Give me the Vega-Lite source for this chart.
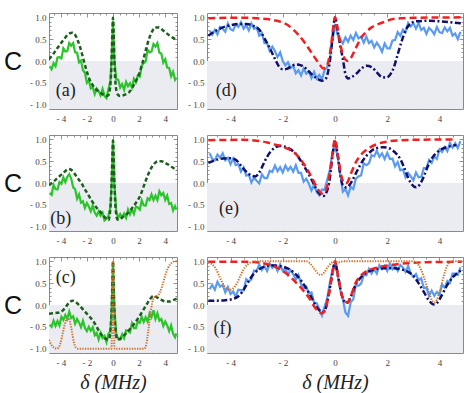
{
"$schema":"https://vega.github.io/schema/vega-lite/v6.json",
"padding":{"left":2,"top":12,"right":2,"bottom":2},
"background":"white",
"config":{"view":{"stroke":"#8a8a8a","strokeWidth":1},"axis":{"domain":false,"grid":false,"tickColor":"#777","tickWidth":0.8,"labelFont":"Liberation Serif","labelFontSize":9,"labelColor":"#444","titleFontWeight":"normal"}},
"data":{"name":"d"},
"datasets":{"d":[
{"p":"a","s":"e","x":-4.85,"y":-0.12},{"p":"a","s":"e","x":-4.7,"y":-0.19},{"p":"a","s":"e","x":-4.55,"y":-0.05},{"p":"a","s":"e","x":-4.4,"y":-0.12},{"p":"a","s":"e","x":-4.25,"y":0.08},{"p":"a","s":"e","x":-4.1,"y":0.09},{"p":"a","s":"e","x":-3.95,"y":0.06},{"p":"a","s":"e","x":-3.8,"y":0.29},{"p":"a","s":"e","x":-3.65,"y":0.22},{"p":"a","s":"e","x":-3.5,"y":0.23},{"p":"a","s":"e","x":-3.35,"y":0.41},{"p":"a","s":"e","x":-3.2,"y":0.35},{"p":"a","s":"e","x":-3.05,"y":0.41},{"p":"a","s":"e","x":-2.9,"y":0.2},{"p":"a","s":"e","x":-2.75,"y":0.19},{"p":"a","s":"e","x":-2.6,"y":-0.03},{"p":"a","s":"e","x":-2.45,"y":0.01},{"p":"a","s":"e","x":-2.3,"y":-0.21},{"p":"a","s":"e","x":-2.15,"y":-0.27},{"p":"a","s":"e","x":-2.0,"y":-0.5},{"p":"a","s":"e","x":-1.85,"y":-0.44},{"p":"a","s":"e","x":-1.7,"y":-0.63},{"p":"a","s":"e","x":-1.55,"y":-0.6},{"p":"a","s":"e","x":-1.4,"y":-0.76},{"p":"a","s":"e","x":-1.25,"y":-0.63},{"p":"a","s":"e","x":-1.1,"y":-0.69},{"p":"a","s":"e","x":-0.95,"y":-0.79},{"p":"a","s":"e","x":-0.8,"y":-0.64},{"p":"a","s":"e","x":-0.65,"y":-0.8},{"p":"a","s":"e","x":-0.5,"y":-0.85},{"p":"a","s":"e","x":-0.35,"y":-0.65},{"p":"a","s":"e","x":-0.2,"y":-0.46},{"p":"a","s":"e","x":-0.1,"y":0.1},{"p":"a","s":"e","x":0,"y":0.93},{"p":"a","s":"e","x":0.1,"y":0.05},{"p":"a","s":"e","x":0.25,"y":-0.42},{"p":"a","s":"e","x":0.4,"y":-0.43},{"p":"a","s":"e","x":0.55,"y":-0.61},{"p":"a","s":"e","x":0.7,"y":-0.53},{"p":"a","s":"e","x":0.85,"y":-0.66},{"p":"a","s":"e","x":1.0,"y":-0.48},{"p":"a","s":"e","x":1.15,"y":-0.58},{"p":"a","s":"e","x":1.3,"y":-0.51},{"p":"a","s":"e","x":1.45,"y":-0.61},{"p":"a","s":"e","x":1.6,"y":-0.41},{"p":"a","s":"e","x":1.75,"y":-0.49},{"p":"a","s":"e","x":1.9,"y":-0.33},{"p":"a","s":"e","x":2.05,"y":-0.36},{"p":"a","s":"e","x":2.2,"y":-0.11},{"p":"a","s":"e","x":2.35,"y":-0.05},{"p":"a","s":"e","x":2.5,"y":-0.01},{"p":"a","s":"e","x":2.65,"y":0.26},{"p":"a","s":"e","x":2.8,"y":0.2},{"p":"a","s":"e","x":2.95,"y":0.22},{"p":"a","s":"e","x":3.1,"y":0.39},{"p":"a","s":"e","x":3.25,"y":0.33},{"p":"a","s":"e","x":3.4,"y":0.41},{"p":"a","s":"e","x":3.55,"y":0.19},{"p":"a","s":"e","x":3.7,"y":0.17},{"p":"a","s":"e","x":3.85,"y":-0.04},{"p":"a","s":"e","x":4.0,"y":0.04},{"p":"a","s":"e","x":4.15,"y":-0.15},{"p":"a","s":"e","x":4.3,"y":-0.16},{"p":"a","s":"e","x":4.45,"y":-0.35},{"p":"a","s":"e","x":4.6,"y":-0.25},{"p":"a","s":"e","x":4.75,"y":-0.43},{"p":"a","s":"e","x":4.85,"y":-0.38},
{"p":"a","s":"t","x":-4.9,"y":0.04},{"p":"a","s":"t","x":-4.6,"y":0.15},{"p":"a","s":"t","x":-4.3,"y":0.28},{"p":"a","s":"t","x":-4.0,"y":0.4},{"p":"a","s":"t","x":-3.7,"y":0.52},{"p":"a","s":"t","x":-3.4,"y":0.62},{"p":"a","s":"t","x":-3.1,"y":0.65},{"p":"a","s":"t","x":-2.9,"y":0.6},{"p":"a","s":"t","x":-2.7,"y":0.47},{"p":"a","s":"t","x":-2.5,"y":0.3},{"p":"a","s":"t","x":-2.3,"y":0.08},{"p":"a","s":"t","x":-2.1,"y":-0.14},{"p":"a","s":"t","x":-1.9,"y":-0.34},{"p":"a","s":"t","x":-1.7,"y":-0.48},{"p":"a","s":"t","x":-1.5,"y":-0.58},{"p":"a","s":"t","x":-1.3,"y":-0.65},{"p":"a","s":"t","x":-1.1,"y":-0.7},{"p":"a","s":"t","x":-0.9,"y":-0.74},{"p":"a","s":"t","x":-0.7,"y":-0.78},{"p":"a","s":"t","x":-0.5,"y":-0.8},{"p":"a","s":"t","x":-0.35,"y":-0.78},{"p":"a","s":"t","x":-0.22,"y":-0.6},{"p":"a","s":"t","x":-0.12,"y":-0.1},{"p":"a","s":"t","x":-0.05,"y":0.65},{"p":"a","s":"t","x":0,"y":0.99},{"p":"a","s":"t","x":0.05,"y":0.65},{"p":"a","s":"t","x":0.12,"y":-0.1},{"p":"a","s":"t","x":0.22,"y":-0.6},{"p":"a","s":"t","x":0.35,"y":-0.76},{"p":"a","s":"t","x":0.55,"y":-0.8},{"p":"a","s":"t","x":0.75,"y":-0.79},{"p":"a","s":"t","x":1.0,"y":-0.76},{"p":"a","s":"t","x":1.25,"y":-0.71},{"p":"a","s":"t","x":1.5,"y":-0.6},{"p":"a","s":"t","x":1.75,"y":-0.46},{"p":"a","s":"t","x":2.0,"y":-0.3},{"p":"a","s":"t","x":2.25,"y":-0.05},{"p":"a","s":"t","x":2.5,"y":0.24},{"p":"a","s":"t","x":2.75,"y":0.5},{"p":"a","s":"t","x":3.0,"y":0.68},{"p":"a","s":"t","x":3.25,"y":0.77},{"p":"a","s":"t","x":3.5,"y":0.77},{"p":"a","s":"t","x":3.75,"y":0.72},{"p":"a","s":"t","x":4.0,"y":0.66},{"p":"a","s":"t","x":4.3,"y":0.59},{"p":"a","s":"t","x":4.6,"y":0.53},{"p":"a","s":"t","x":4.9,"y":0.47},
{"p":"b","s":"e","x":-4.85,"y":-0.23},{"p":"b","s":"e","x":-4.7,"y":-0.27},{"p":"b","s":"e","x":-4.55,"y":-0.04},{"p":"b","s":"e","x":-4.4,"y":-0.14},{"p":"b","s":"e","x":-4.25,"y":-0.15},{"p":"b","s":"e","x":-4.1,"y":0.02},{"p":"b","s":"e","x":-3.95,"y":-0.02},{"p":"b","s":"e","x":-3.8,"y":0.13},{"p":"b","s":"e","x":-3.65,"y":0.02},{"p":"b","s":"e","x":-3.5,"y":0.14},{"p":"b","s":"e","x":-3.35,"y":0.2},{"p":"b","s":"e","x":-3.2,"y":0.1},{"p":"b","s":"e","x":-3.05,"y":-0.1},{"p":"b","s":"e","x":-2.9,"y":-0.14},{"p":"b","s":"e","x":-2.75,"y":-0.36},{"p":"b","s":"e","x":-2.6,"y":-0.26},{"p":"b","s":"e","x":-2.45,"y":-0.45},{"p":"b","s":"e","x":-2.3,"y":-0.42},{"p":"b","s":"e","x":-2.15,"y":-0.57},{"p":"b","s":"e","x":-2.0,"y":-0.46},{"p":"b","s":"e","x":-1.85,"y":-0.54},{"p":"b","s":"e","x":-1.7,"y":-0.65},{"p":"b","s":"e","x":-1.55,"y":-0.51},{"p":"b","s":"e","x":-1.4,"y":-0.68},{"p":"b","s":"e","x":-1.25,"y":-0.75},{"p":"b","s":"e","x":-1.1,"y":-0.65},{"p":"b","s":"e","x":-0.95,"y":-0.75},{"p":"b","s":"e","x":-0.8,"y":-0.68},{"p":"b","s":"e","x":-0.65,"y":-0.86},{"p":"b","s":"e","x":-0.5,"y":-0.82},{"p":"b","s":"e","x":-0.35,"y":-0.75},{"p":"b","s":"e","x":-0.2,"y":-0.55},{"p":"b","s":"e","x":-0.1,"y":0.0},{"p":"b","s":"e","x":0,"y":1.0},{"p":"b","s":"e","x":0.1,"y":0.0},{"p":"b","s":"e","x":0.25,"y":-0.65},{"p":"b","s":"e","x":0.4,"y":-0.8},{"p":"b","s":"e","x":0.55,"y":-0.71},{"p":"b","s":"e","x":0.7,"y":-0.79},{"p":"b","s":"e","x":0.85,"y":-0.7},{"p":"b","s":"e","x":1.0,"y":-0.8},{"p":"b","s":"e","x":1.15,"y":-0.61},{"p":"b","s":"e","x":1.3,"y":-0.72},{"p":"b","s":"e","x":1.45,"y":-0.61},{"p":"b","s":"e","x":1.6,"y":-0.71},{"p":"b","s":"e","x":1.75,"y":-0.54},{"p":"b","s":"e","x":1.9,"y":-0.56},{"p":"b","s":"e","x":2.05,"y":-0.61},{"p":"b","s":"e","x":2.2,"y":-0.4},{"p":"b","s":"e","x":2.35,"y":-0.51},{"p":"b","s":"e","x":2.5,"y":-0.52},{"p":"b","s":"e","x":2.65,"y":-0.35},{"p":"b","s":"e","x":2.8,"y":-0.39},{"p":"b","s":"e","x":2.95,"y":-0.26},{"p":"b","s":"e","x":3.1,"y":-0.39},{"p":"b","s":"e","x":3.25,"y":-0.29},{"p":"b","s":"e","x":3.4,"y":-0.39},{"p":"b","s":"e","x":3.55,"y":-0.19},{"p":"b","s":"e","x":3.7,"y":-0.28},{"p":"b","s":"e","x":3.85,"y":-0.23},{"p":"b","s":"e","x":4.0,"y":-0.39},{"p":"b","s":"e","x":4.15,"y":-0.29},{"p":"b","s":"e","x":4.3,"y":-0.48},{"p":"b","s":"e","x":4.45,"y":-0.46},{"p":"b","s":"e","x":4.6,"y":-0.63},{"p":"b","s":"e","x":4.75,"y":-0.53},{"p":"b","s":"e","x":4.85,"y":-0.61},
{"p":"b","s":"t","x":-4.9,"y":-0.05},{"p":"b","s":"t","x":-4.6,"y":0.02},{"p":"b","s":"t","x":-4.3,"y":0.1},{"p":"b","s":"t","x":-4.0,"y":0.18},{"p":"b","s":"t","x":-3.7,"y":0.26},{"p":"b","s":"t","x":-3.4,"y":0.32},{"p":"b","s":"t","x":-3.2,"y":0.3},{"p":"b","s":"t","x":-3.0,"y":0.24},{"p":"b","s":"t","x":-2.8,"y":0.15},{"p":"b","s":"t","x":-2.6,"y":0.07},{"p":"b","s":"t","x":-2.4,"y":-0.01},{"p":"b","s":"t","x":-2.2,"y":-0.12},{"p":"b","s":"t","x":-2.0,"y":-0.22},{"p":"b","s":"t","x":-1.8,"y":-0.32},{"p":"b","s":"t","x":-1.6,"y":-0.42},{"p":"b","s":"t","x":-1.3,"y":-0.55},{"p":"b","s":"t","x":-1.0,"y":-0.65},{"p":"b","s":"t","x":-0.7,"y":-0.76},{"p":"b","s":"t","x":-0.5,"y":-0.82},{"p":"b","s":"t","x":-0.35,"y":-0.85},{"p":"b","s":"t","x":-0.22,"y":-0.65},{"p":"b","s":"t","x":-0.12,"y":-0.1},{"p":"b","s":"t","x":-0.05,"y":0.6},{"p":"b","s":"t","x":0,"y":0.97},{"p":"b","s":"t","x":0.05,"y":0.6},{"p":"b","s":"t","x":0.12,"y":-0.1},{"p":"b","s":"t","x":0.22,"y":-0.65},{"p":"b","s":"t","x":0.35,"y":-0.84},{"p":"b","s":"t","x":0.5,"y":-0.83},{"p":"b","s":"t","x":0.8,"y":-0.77},{"p":"b","s":"t","x":1.1,"y":-0.7},{"p":"b","s":"t","x":1.4,"y":-0.6},{"p":"b","s":"t","x":1.7,"y":-0.48},{"p":"b","s":"t","x":1.9,"y":-0.39},{"p":"b","s":"t","x":2.1,"y":-0.28},{"p":"b","s":"t","x":2.3,"y":-0.12},{"p":"b","s":"t","x":2.5,"y":0.05},{"p":"b","s":"t","x":2.7,"y":0.2},{"p":"b","s":"t","x":2.9,"y":0.33},{"p":"b","s":"t","x":3.1,"y":0.42},{"p":"b","s":"t","x":3.3,"y":0.48},{"p":"b","s":"t","x":3.5,"y":0.5},{"p":"b","s":"t","x":3.7,"y":0.5},{"p":"b","s":"t","x":4.0,"y":0.46},{"p":"b","s":"t","x":4.3,"y":0.41},{"p":"b","s":"t","x":4.6,"y":0.35},{"p":"b","s":"t","x":4.9,"y":0.3},
{"p":"c","s":"e","x":-4.85,"y":-0.45},{"p":"c","s":"e","x":-4.7,"y":-0.5},{"p":"c","s":"e","x":-4.55,"y":-0.36},{"p":"c","s":"e","x":-4.4,"y":-0.48},{"p":"c","s":"e","x":-4.25,"y":-0.37},{"p":"c","s":"e","x":-4.1,"y":-0.47},{"p":"c","s":"e","x":-3.95,"y":-0.27},{"p":"c","s":"e","x":-3.8,"y":-0.34},{"p":"c","s":"e","x":-3.65,"y":-0.23},{"p":"c","s":"e","x":-3.5,"y":-0.32},{"p":"c","s":"e","x":-3.35,"y":-0.15},{"p":"c","s":"e","x":-3.2,"y":-0.3},{"p":"c","s":"e","x":-3.05,"y":-0.26},{"p":"c","s":"e","x":-2.9,"y":-0.43},{"p":"c","s":"e","x":-2.75,"y":-0.32},{"p":"c","s":"e","x":-2.6,"y":-0.4},{"p":"c","s":"e","x":-2.45,"y":-0.51},{"p":"c","s":"e","x":-2.3,"y":-0.36},{"p":"c","s":"e","x":-2.15,"y":-0.53},{"p":"c","s":"e","x":-2.0,"y":-0.6},{"p":"c","s":"e","x":-1.85,"y":-0.5},{"p":"c","s":"e","x":-1.7,"y":-0.59},{"p":"c","s":"e","x":-1.55,"y":-0.51},{"p":"c","s":"e","x":-1.4,"y":-0.69},{"p":"c","s":"e","x":-1.25,"y":-0.64},{"p":"c","s":"e","x":-1.1,"y":-0.79},{"p":"c","s":"e","x":-0.95,"y":-0.64},{"p":"c","s":"e","x":-0.8,"y":-0.76},{"p":"c","s":"e","x":-0.65,"y":-0.71},{"p":"c","s":"e","x":-0.5,"y":-0.85},{"p":"c","s":"e","x":-0.35,"y":-0.66},{"p":"c","s":"e","x":-0.2,"y":-0.6},{"p":"c","s":"e","x":-0.1,"y":-0.05},{"p":"c","s":"e","x":0,"y":1.0},{"p":"c","s":"e","x":0.1,"y":-0.05},{"p":"c","s":"e","x":0.25,"y":-0.65},{"p":"c","s":"e","x":0.4,"y":-0.78},{"p":"c","s":"e","x":0.55,"y":-0.79},{"p":"c","s":"e","x":0.7,"y":-0.67},{"p":"c","s":"e","x":0.85,"y":-0.76},{"p":"c","s":"e","x":1.0,"y":-0.58},{"p":"c","s":"e","x":1.15,"y":-0.59},{"p":"c","s":"e","x":1.3,"y":-0.63},{"p":"c","s":"e","x":1.45,"y":-0.42},{"p":"c","s":"e","x":1.6,"y":-0.53},{"p":"c","s":"e","x":1.75,"y":-0.53},{"p":"c","s":"e","x":1.9,"y":-0.37},{"p":"c","s":"e","x":2.05,"y":-0.41},{"p":"c","s":"e","x":2.2,"y":-0.27},{"p":"c","s":"e","x":2.35,"y":-0.39},{"p":"c","s":"e","x":2.5,"y":-0.28},{"p":"c","s":"e","x":2.65,"y":-0.38},{"p":"c","s":"e","x":2.8,"y":-0.19},{"p":"c","s":"e","x":2.95,"y":-0.28},{"p":"c","s":"e","x":3.1,"y":-0.12},{"p":"c","s":"e","x":3.25,"y":-0.32},{"p":"c","s":"e","x":3.4,"y":-0.19},{"p":"c","s":"e","x":3.55,"y":-0.36},{"p":"c","s":"e","x":3.7,"y":-0.32},{"p":"c","s":"e","x":3.85,"y":-0.48},{"p":"c","s":"e","x":4.0,"y":-0.38},{"p":"c","s":"e","x":4.15,"y":-0.47},{"p":"c","s":"e","x":4.3,"y":-0.6},{"p":"c","s":"e","x":4.45,"y":-0.47},{"p":"c","s":"e","x":4.6,"y":-0.66},{"p":"c","s":"e","x":4.75,"y":-0.74},{"p":"c","s":"e","x":4.85,"y":-0.65},
{"p":"c","s":"t","x":-4.9,"y":-0.2},{"p":"c","s":"t","x":-4.6,"y":-0.19},{"p":"c","s":"t","x":-4.3,"y":-0.18},{"p":"c","s":"t","x":-4.0,"y":-0.16},{"p":"c","s":"t","x":-3.7,"y":-0.08},{"p":"c","s":"t","x":-3.4,"y":0.04},{"p":"c","s":"t","x":-3.1,"y":0.1},{"p":"c","s":"t","x":-2.9,"y":0.08},{"p":"c","s":"t","x":-2.6,"y":0.0},{"p":"c","s":"t","x":-2.3,"y":-0.1},{"p":"c","s":"t","x":-2.0,"y":-0.2},{"p":"c","s":"t","x":-1.7,"y":-0.3},{"p":"c","s":"t","x":-1.4,"y":-0.42},{"p":"c","s":"t","x":-1.1,"y":-0.58},{"p":"c","s":"t","x":-0.8,"y":-0.71},{"p":"c","s":"t","x":-0.5,"y":-0.78},{"p":"c","s":"t","x":-0.33,"y":-0.79},{"p":"c","s":"t","x":-0.2,"y":-0.6},{"p":"c","s":"t","x":-0.1,"y":-0.1},{"p":"c","s":"t","x":-0.04,"y":0.6},{"p":"c","s":"t","x":0,"y":1.0},{"p":"c","s":"t","x":0.04,"y":0.6},{"p":"c","s":"t","x":0.1,"y":-0.1},{"p":"c","s":"t","x":0.2,"y":-0.6},{"p":"c","s":"t","x":0.33,"y":-0.79},{"p":"c","s":"t","x":0.5,"y":-0.78},{"p":"c","s":"t","x":0.9,"y":-0.68},{"p":"c","s":"t","x":1.3,"y":-0.55},{"p":"c","s":"t","x":1.7,"y":-0.4},{"p":"c","s":"t","x":2.1,"y":-0.22},{"p":"c","s":"t","x":2.45,"y":-0.05},{"p":"c","s":"t","x":2.8,"y":0.12},{"p":"c","s":"t","x":3.1,"y":0.21},{"p":"c","s":"t","x":3.4,"y":0.17},{"p":"c","s":"t","x":3.7,"y":0.12},{"p":"c","s":"t","x":4.0,"y":0.08},{"p":"c","s":"t","x":4.3,"y":0.08},{"p":"c","s":"t","x":4.6,"y":0.11},{"p":"c","s":"t","x":4.9,"y":0.15},
{"p":"c","s":"o","x":-4.9,"y":-0.8},{"p":"c","s":"o","x":-4.7,"y":-0.92},{"p":"c","s":"o","x":-4.5,"y":-0.98},{"p":"c","s":"o","x":-4.3,"y":-1.0},{"p":"c","s":"o","x":-4.15,"y":-0.97},{"p":"c","s":"o","x":-4.0,"y":-0.85},{"p":"c","s":"o","x":-3.85,"y":-0.65},{"p":"c","s":"o","x":-3.7,"y":-0.45},{"p":"c","s":"o","x":-3.55,"y":-0.32},{"p":"c","s":"o","x":-3.45,"y":-0.3},{"p":"c","s":"o","x":-3.3,"y":-0.38},{"p":"c","s":"o","x":-3.15,"y":-0.6},{"p":"c","s":"o","x":-3.0,"y":-0.85},{"p":"c","s":"o","x":-2.85,"y":-0.97},{"p":"c","s":"o","x":-2.7,"y":-1.0},{"p":"c","s":"o","x":-0.12,"y":-1.0},{"p":"c","s":"o","x":-0.06,"y":-0.3},{"p":"c","s":"o","x":0,"y":1.0},{"p":"c","s":"o","x":0.06,"y":-0.3},{"p":"c","s":"o","x":0.12,"y":-1.0},{"p":"c","s":"o","x":2.4,"y":-1.0},{"p":"c","s":"o","x":2.55,"y":-0.9},{"p":"c","s":"o","x":2.7,"y":-0.6},{"p":"c","s":"o","x":2.85,"y":-0.25},{"p":"c","s":"o","x":3.0,"y":0.05},{"p":"c","s":"o","x":3.15,"y":0.17},{"p":"c","s":"o","x":3.3,"y":0.2},{"p":"c","s":"o","x":3.45,"y":0.22},{"p":"c","s":"o","x":3.6,"y":0.3},{"p":"c","s":"o","x":3.75,"y":0.42},{"p":"c","s":"o","x":3.9,"y":0.58},{"p":"c","s":"o","x":4.05,"y":0.72},{"p":"c","s":"o","x":4.2,"y":0.84},{"p":"c","s":"o","x":4.35,"y":0.92},{"p":"c","s":"o","x":4.5,"y":0.97},{"p":"c","s":"o","x":4.7,"y":1.0},{"p":"c","s":"o","x":4.9,"y":1.0},
{"p":"d","s":"e","x":-4.8,"y":0.7},{"p":"d","s":"e","x":-4.7,"y":0.6},{"p":"d","s":"e","x":-4.6,"y":0.71},{"p":"d","s":"e","x":-4.5,"y":0.61},{"p":"d","s":"e","x":-4.4,"y":0.78},{"p":"d","s":"e","x":-4.3,"y":0.74},{"p":"d","s":"e","x":-4.2,"y":0.67},{"p":"d","s":"e","x":-4.1,"y":0.86},{"p":"d","s":"e","x":-4.0,"y":0.73},{"p":"d","s":"e","x":-3.9,"y":0.7},{"p":"d","s":"e","x":-3.8,"y":0.84},{"p":"d","s":"e","x":-3.7,"y":0.78},{"p":"d","s":"e","x":-3.6,"y":0.89},{"p":"d","s":"e","x":-3.5,"y":0.74},{"p":"d","s":"e","x":-3.4,"y":0.82},{"p":"d","s":"e","x":-3.3,"y":0.7},{"p":"d","s":"e","x":-3.2,"y":0.86},{"p":"d","s":"e","x":-3.1,"y":0.74},{"p":"d","s":"e","x":-3.0,"y":0.77},{"p":"d","s":"e","x":-2.9,"y":0.58},{"p":"d","s":"e","x":-2.8,"y":0.64},{"p":"d","s":"e","x":-2.7,"y":0.41},{"p":"d","s":"e","x":-2.6,"y":0.41},{"p":"d","s":"e","x":-2.5,"y":0.23},{"p":"d","s":"e","x":-2.4,"y":0.33},{"p":"d","s":"e","x":-2.3,"y":0.23},{"p":"d","s":"e","x":-2.2,"y":0.09},{"p":"d","s":"e","x":-2.1,"y":0.2},{"p":"d","s":"e","x":-2.0,"y":0.0},{"p":"d","s":"e","x":-1.9,"y":-0.1},{"p":"d","s":"e","x":-1.8,"y":-0.03},{"p":"d","s":"e","x":-1.7,"y":-0.16},{"p":"d","s":"e","x":-1.6,"y":-0.11},{"p":"d","s":"e","x":-1.5,"y":-0.28},{"p":"d","s":"e","x":-1.4,"y":-0.21},{"p":"d","s":"e","x":-1.3,"y":-0.33},{"p":"d","s":"e","x":-1.2,"y":-0.17},{"p":"d","s":"e","x":-1.1,"y":-0.29},{"p":"d","s":"e","x":-1.0,"y":-0.24},{"p":"d","s":"e","x":-0.9,"y":-0.39},{"p":"d","s":"e","x":-0.8,"y":-0.25},{"p":"d","s":"e","x":-0.7,"y":-0.4},{"p":"d","s":"e","x":-0.6,"y":-0.32},{"p":"d","s":"e","x":-0.5,"y":-0.42},{"p":"d","s":"e","x":-0.4,"y":-0.21},{"p":"d","s":"e","x":-0.3,"y":-0.14},{"p":"d","s":"e","x":-0.2,"y":0.05},{"p":"d","s":"e","x":-0.1,"y":0.45},{"p":"d","s":"e","x":0,"y":0.85},{"p":"d","s":"e","x":0.1,"y":0.6},{"p":"d","s":"e","x":0.2,"y":0.5},{"p":"d","s":"e","x":0.3,"y":0.4},{"p":"d","s":"e","x":0.4,"y":0.54},{"p":"d","s":"e","x":0.5,"y":0.44},{"p":"d","s":"e","x":0.6,"y":0.58},{"p":"d","s":"e","x":0.7,"y":0.48},{"p":"d","s":"e","x":0.8,"y":0.64},{"p":"d","s":"e","x":0.9,"y":0.52},{"p":"d","s":"e","x":1.0,"y":0.56},{"p":"d","s":"e","x":1.1,"y":0.42},{"p":"d","s":"e","x":1.2,"y":0.56},{"p":"d","s":"e","x":1.3,"y":0.41},{"p":"d","s":"e","x":1.4,"y":0.46},{"p":"d","s":"e","x":1.5,"y":0.31},{"p":"d","s":"e","x":1.6,"y":0.42},{"p":"d","s":"e","x":1.7,"y":0.33},{"p":"d","s":"e","x":1.8,"y":0.21},{"p":"d","s":"e","x":1.9,"y":0.4},{"p":"d","s":"e","x":2.0,"y":0.29},{"p":"d","s":"e","x":2.1,"y":0.29},{"p":"d","s":"e","x":2.2,"y":0.47},{"p":"d","s":"e","x":2.3,"y":0.48},{"p":"d","s":"e","x":2.4,"y":0.66},{"p":"d","s":"e","x":2.5,"y":0.58},{"p":"d","s":"e","x":2.6,"y":0.72},{"p":"d","s":"e","x":2.7,"y":0.66},{"p":"d","s":"e","x":2.8,"y":0.87},{"p":"d","s":"e","x":2.9,"y":0.79},{"p":"d","s":"e","x":3.0,"y":0.87},{"p":"d","s":"e","x":3.1,"y":0.74},{"p":"d","s":"e","x":3.2,"y":0.87},{"p":"d","s":"e","x":3.3,"y":0.71},{"p":"d","s":"e","x":3.4,"y":0.76},{"p":"d","s":"e","x":3.5,"y":0.62},{"p":"d","s":"e","x":3.6,"y":0.76},{"p":"d","s":"e","x":3.7,"y":0.7},{"p":"d","s":"e","x":3.8,"y":0.61},{"p":"d","s":"e","x":3.9,"y":0.78},{"p":"d","s":"e","x":4.0,"y":0.66},{"p":"d","s":"e","x":4.1,"y":0.64},{"p":"d","s":"e","x":4.2,"y":0.77},{"p":"d","s":"e","x":4.3,"y":0.68},{"p":"d","s":"e","x":4.4,"y":0.76},{"p":"d","s":"e","x":4.5,"y":0.58},{"p":"d","s":"e","x":4.6,"y":0.63},{"p":"d","s":"e","x":4.7,"y":0.5},{"p":"d","s":"e","x":4.8,"y":0.67},
{"p":"d","s":"t","x":-4.85,"y":0.58},{"p":"d","s":"t","x":-4.6,"y":0.68},{"p":"d","s":"t","x":-4.3,"y":0.77},{"p":"d","s":"t","x":-4.0,"y":0.82},{"p":"d","s":"t","x":-3.7,"y":0.85},{"p":"d","s":"t","x":-3.4,"y":0.85},{"p":"d","s":"t","x":-3.1,"y":0.8},{"p":"d","s":"t","x":-2.9,"y":0.72},{"p":"d","s":"t","x":-2.7,"y":0.52},{"p":"d","s":"t","x":-2.5,"y":0.3},{"p":"d","s":"t","x":-2.3,"y":0.05},{"p":"d","s":"t","x":-2.15,"y":-0.12},{"p":"d","s":"t","x":-2.0,"y":-0.19},{"p":"d","s":"t","x":-1.85,"y":-0.18},{"p":"d","s":"t","x":-1.7,"y":-0.13},{"p":"d","s":"t","x":-1.5,"y":-0.08},{"p":"d","s":"t","x":-1.3,"y":-0.1},{"p":"d","s":"t","x":-1.1,"y":-0.18},{"p":"d","s":"t","x":-0.9,"y":-0.3},{"p":"d","s":"t","x":-0.7,"y":-0.4},{"p":"d","s":"t","x":-0.5,"y":-0.45},{"p":"d","s":"t","x":-0.35,"y":-0.4},{"p":"d","s":"t","x":-0.22,"y":-0.1},{"p":"d","s":"t","x":-0.1,"y":0.5},{"p":"d","s":"t","x":0,"y":1.0},{"p":"d","s":"t","x":0.1,"y":0.7},{"p":"d","s":"t","x":0.2,"y":0.35},{"p":"d","s":"t","x":0.3,"y":0.05},{"p":"d","s":"t","x":0.4,"y":-0.3},{"p":"d","s":"t","x":0.5,"y":-0.4},{"p":"d","s":"t","x":0.6,"y":-0.38},{"p":"d","s":"t","x":0.8,"y":-0.3},{"p":"d","s":"t","x":1.0,"y":-0.18},{"p":"d","s":"t","x":1.2,"y":-0.11},{"p":"d","s":"t","x":1.4,"y":-0.14},{"p":"d","s":"t","x":1.6,"y":-0.26},{"p":"d","s":"t","x":1.8,"y":-0.37},{"p":"d","s":"t","x":1.95,"y":-0.38},{"p":"d","s":"t","x":2.1,"y":-0.32},{"p":"d","s":"t","x":2.25,"y":-0.15},{"p":"d","s":"t","x":2.4,"y":0.15},{"p":"d","s":"t","x":2.55,"y":0.45},{"p":"d","s":"t","x":2.7,"y":0.7},{"p":"d","s":"t","x":2.9,"y":0.86},{"p":"d","s":"t","x":3.1,"y":0.91},{"p":"d","s":"t","x":3.5,"y":0.92},{"p":"d","s":"t","x":4.0,"y":0.91},{"p":"d","s":"t","x":4.4,"y":0.89},{"p":"d","s":"t","x":4.85,"y":0.86},
{"p":"d","s":"r","x":-4.85,"y":0.98},{"p":"d","s":"r","x":-4.0,"y":0.99},{"p":"d","s":"r","x":-3.5,"y":0.99},{"p":"d","s":"r","x":-3.0,"y":0.98},{"p":"d","s":"r","x":-2.6,"y":0.96},{"p":"d","s":"r","x":-2.3,"y":0.93},{"p":"d","s":"r","x":-2.0,"y":0.88},{"p":"d","s":"r","x":-1.8,"y":0.82},{"p":"d","s":"r","x":-1.6,"y":0.72},{"p":"d","s":"r","x":-1.4,"y":0.6},{"p":"d","s":"r","x":-1.2,"y":0.45},{"p":"d","s":"r","x":-1.0,"y":0.28},{"p":"d","s":"r","x":-0.8,"y":0.1},{"p":"d","s":"r","x":-0.6,"y":-0.07},{"p":"d","s":"r","x":-0.45,"y":-0.17},{"p":"d","s":"r","x":-0.35,"y":-0.15},{"p":"d","s":"r","x":-0.25,"y":0.0},{"p":"d","s":"r","x":-0.15,"y":0.35},{"p":"d","s":"r","x":-0.05,"y":0.85},{"p":"d","s":"r","x":0,"y":1.0},{"p":"d","s":"r","x":0.1,"y":0.75},{"p":"d","s":"r","x":0.2,"y":0.4},{"p":"d","s":"r","x":0.3,"y":0.15},{"p":"d","s":"r","x":0.4,"y":0.03},{"p":"d","s":"r","x":0.5,"y":0.0},{"p":"d","s":"r","x":0.6,"y":0.06},{"p":"d","s":"r","x":0.8,"y":0.3},{"p":"d","s":"r","x":1.0,"y":0.53},{"p":"d","s":"r","x":1.2,"y":0.67},{"p":"d","s":"r","x":1.4,"y":0.77},{"p":"d","s":"r","x":1.6,"y":0.83},{"p":"d","s":"r","x":1.9,"y":0.9},{"p":"d","s":"r","x":2.2,"y":0.96},{"p":"d","s":"r","x":2.6,"y":0.98},{"p":"d","s":"r","x":3.0,"y":0.99},{"p":"d","s":"r","x":4.85,"y":1.0},
{"p":"e","s":"e","x":-4.8,"y":0.68},{"p":"e","s":"e","x":-4.7,"y":0.55},{"p":"e","s":"e","x":-4.6,"y":0.52},{"p":"e","s":"e","x":-4.5,"y":0.65},{"p":"e","s":"e","x":-4.4,"y":0.58},{"p":"e","s":"e","x":-4.3,"y":0.68},{"p":"e","s":"e","x":-4.2,"y":0.52},{"p":"e","s":"e","x":-4.1,"y":0.58},{"p":"e","s":"e","x":-4.0,"y":0.43},{"p":"e","s":"e","x":-3.9,"y":0.56},{"p":"e","s":"e","x":-3.8,"y":0.41},{"p":"e","s":"e","x":-3.7,"y":0.43},{"p":"e","s":"e","x":-3.6,"y":0.26},{"p":"e","s":"e","x":-3.5,"y":0.36},{"p":"e","s":"e","x":-3.4,"y":0.17},{"p":"e","s":"e","x":-3.3,"y":0.19},{"p":"e","s":"e","x":-3.2,"y":0.01},{"p":"e","s":"e","x":-3.1,"y":0.12},{"p":"e","s":"e","x":-3.0,"y":0.05},{"p":"e","s":"e","x":-2.9,"y":-0.01},{"p":"e","s":"e","x":-2.8,"y":0.2},{"p":"e","s":"e","x":-2.7,"y":0.11},{"p":"e","s":"e","x":-2.6,"y":0.11},{"p":"e","s":"e","x":-2.5,"y":0.28},{"p":"e","s":"e","x":-2.4,"y":0.25},{"p":"e","s":"e","x":-2.3,"y":0.4},{"p":"e","s":"e","x":-2.2,"y":0.27},{"p":"e","s":"e","x":-2.1,"y":0.36},{"p":"e","s":"e","x":-2.0,"y":0.24},{"p":"e","s":"e","x":-1.9,"y":0.4},{"p":"e","s":"e","x":-1.8,"y":0.29},{"p":"e","s":"e","x":-1.7,"y":0.37},{"p":"e","s":"e","x":-1.6,"y":0.26},{"p":"e","s":"e","x":-1.5,"y":0.41},{"p":"e","s":"e","x":-1.4,"y":0.23},{"p":"e","s":"e","x":-1.3,"y":0.23},{"p":"e","s":"e","x":-1.2,"y":0.03},{"p":"e","s":"e","x":-1.1,"y":0.1},{"p":"e","s":"e","x":-1.0,"y":-0.02},{"p":"e","s":"e","x":-0.9,"y":-0.17},{"p":"e","s":"e","x":-0.8,"y":-0.04},{"p":"e","s":"e","x":-0.7,"y":-0.21},{"p":"e","s":"e","x":-0.6,"y":-0.28},{"p":"e","s":"e","x":-0.5,"y":-0.15},{"p":"e","s":"e","x":-0.4,"y":-0.16},{"p":"e","s":"e","x":-0.3,"y":0.07},{"p":"e","s":"e","x":-0.2,"y":0.3},{"p":"e","s":"e","x":-0.1,"y":0.7},{"p":"e","s":"e","x":0,"y":0.87},{"p":"e","s":"e","x":0.1,"y":0.6},{"p":"e","s":"e","x":0.2,"y":0.2},{"p":"e","s":"e","x":0.3,"y":-0.2},{"p":"e","s":"e","x":0.4,"y":-0.14},{"p":"e","s":"e","x":0.5,"y":-0.28},{"p":"e","s":"e","x":0.6,"y":-0.09},{"p":"e","s":"e","x":0.7,"y":-0.14},{"p":"e","s":"e","x":0.8,"y":0.1},{"p":"e","s":"e","x":0.9,"y":0.15},{"p":"e","s":"e","x":1.0,"y":0.18},{"p":"e","s":"e","x":1.1,"y":0.45},{"p":"e","s":"e","x":1.2,"y":0.41},{"p":"e","s":"e","x":1.3,"y":0.45},{"p":"e","s":"e","x":1.4,"y":0.64},{"p":"e","s":"e","x":1.5,"y":0.61},{"p":"e","s":"e","x":1.6,"y":0.74},{"p":"e","s":"e","x":1.7,"y":0.6},{"p":"e","s":"e","x":1.8,"y":0.68},{"p":"e","s":"e","x":1.9,"y":0.55},{"p":"e","s":"e","x":2.0,"y":0.69},{"p":"e","s":"e","x":2.1,"y":0.55},{"p":"e","s":"e","x":2.2,"y":0.56},{"p":"e","s":"e","x":2.3,"y":0.38},{"p":"e","s":"e","x":2.4,"y":0.48},{"p":"e","s":"e","x":2.5,"y":0.29},{"p":"e","s":"e","x":2.6,"y":0.31},{"p":"e","s":"e","x":2.7,"y":0.13},{"p":"e","s":"e","x":2.8,"y":0.23},{"p":"e","s":"e","x":2.9,"y":0.15},{"p":"e","s":"e","x":3.0,"y":0.06},{"p":"e","s":"e","x":3.1,"y":0.24},{"p":"e","s":"e","x":3.2,"y":0.13},{"p":"e","s":"e","x":3.3,"y":0.14},{"p":"e","s":"e","x":3.4,"y":0.34},{"p":"e","s":"e","x":3.5,"y":0.34},{"p":"e","s":"e","x":3.6,"y":0.53},{"p":"e","s":"e","x":3.7,"y":0.46},{"p":"e","s":"e","x":3.8,"y":0.61},{"p":"e","s":"e","x":3.9,"y":0.55},{"p":"e","s":"e","x":4.0,"y":0.77},{"p":"e","s":"e","x":4.1,"y":0.71},{"p":"e","s":"e","x":4.2,"y":0.82},{"p":"e","s":"e","x":4.3,"y":0.73},{"p":"e","s":"e","x":4.4,"y":0.92},{"p":"e","s":"e","x":4.5,"y":0.81},{"p":"e","s":"e","x":4.6,"y":0.91},{"p":"e","s":"e","x":4.7,"y":0.8},{"p":"e","s":"e","x":4.8,"y":0.96},
{"p":"e","s":"t","x":-4.85,"y":0.46},{"p":"e","s":"t","x":-4.6,"y":0.52},{"p":"e","s":"t","x":-4.3,"y":0.56},{"p":"e","s":"t","x":-4.0,"y":0.57},{"p":"e","s":"t","x":-3.8,"y":0.53},{"p":"e","s":"t","x":-3.6,"y":0.4},{"p":"e","s":"t","x":-3.4,"y":0.26},{"p":"e","s":"t","x":-3.2,"y":0.17},{"p":"e","s":"t","x":-3.05,"y":0.15},{"p":"e","s":"t","x":-2.9,"y":0.24},{"p":"e","s":"t","x":-2.75,"y":0.42},{"p":"e","s":"t","x":-2.6,"y":0.6},{"p":"e","s":"t","x":-2.45,"y":0.73},{"p":"e","s":"t","x":-2.3,"y":0.81},{"p":"e","s":"t","x":-2.1,"y":0.85},{"p":"e","s":"t","x":-1.9,"y":0.83},{"p":"e","s":"t","x":-1.7,"y":0.77},{"p":"e","s":"t","x":-1.5,"y":0.67},{"p":"e","s":"t","x":-1.3,"y":0.5},{"p":"e","s":"t","x":-1.1,"y":0.3},{"p":"e","s":"t","x":-0.9,"y":0.08},{"p":"e","s":"t","x":-0.75,"y":-0.1},{"p":"e","s":"t","x":-0.6,"y":-0.24},{"p":"e","s":"t","x":-0.45,"y":-0.3},{"p":"e","s":"t","x":-0.33,"y":-0.22},{"p":"e","s":"t","x":-0.2,"y":0.1},{"p":"e","s":"t","x":-0.1,"y":0.6},{"p":"e","s":"t","x":0,"y":0.95},{"p":"e","s":"t","x":0.1,"y":0.65},{"p":"e","s":"t","x":0.2,"y":0.2},{"p":"e","s":"t","x":0.3,"y":-0.05},{"p":"e","s":"t","x":0.42,"y":-0.1},{"p":"e","s":"t","x":0.55,"y":-0.05},{"p":"e","s":"t","x":0.7,"y":0.1},{"p":"e","s":"t","x":0.85,"y":0.28},{"p":"e","s":"t","x":1.0,"y":0.45},{"p":"e","s":"t","x":1.2,"y":0.62},{"p":"e","s":"t","x":1.4,"y":0.74},{"p":"e","s":"t","x":1.6,"y":0.8},{"p":"e","s":"t","x":1.85,"y":0.82},{"p":"e","s":"t","x":2.1,"y":0.79},{"p":"e","s":"t","x":2.3,"y":0.7},{"p":"e","s":"t","x":2.5,"y":0.55},{"p":"e","s":"t","x":2.65,"y":0.35},{"p":"e","s":"t","x":2.8,"y":0.12},{"p":"e","s":"t","x":2.95,"y":-0.04},{"p":"e","s":"t","x":3.1,"y":-0.1},{"p":"e","s":"t","x":3.25,"y":-0.03},{"p":"e","s":"t","x":3.4,"y":0.15},{"p":"e","s":"t","x":3.55,"y":0.38},{"p":"e","s":"t","x":3.7,"y":0.56},{"p":"e","s":"t","x":3.9,"y":0.7},{"p":"e","s":"t","x":4.1,"y":0.78},{"p":"e","s":"t","x":4.4,"y":0.84},{"p":"e","s":"t","x":4.65,"y":0.87},
{"p":"e","s":"r","x":-4.85,"y":0.98},{"p":"e","s":"r","x":-3.5,"y":0.99},{"p":"e","s":"r","x":-3.0,"y":0.97},{"p":"e","s":"r","x":-2.6,"y":0.93},{"p":"e","s":"r","x":-2.3,"y":0.88},{"p":"e","s":"r","x":-2.0,"y":0.84},{"p":"e","s":"r","x":-1.8,"y":0.78},{"p":"e","s":"r","x":-1.6,"y":0.72},{"p":"e","s":"r","x":-1.4,"y":0.6},{"p":"e","s":"r","x":-1.2,"y":0.44},{"p":"e","s":"r","x":-1.0,"y":0.25},{"p":"e","s":"r","x":-0.8,"y":0.02},{"p":"e","s":"r","x":-0.65,"y":-0.15},{"p":"e","s":"r","x":-0.5,"y":-0.24},{"p":"e","s":"r","x":-0.38,"y":-0.2},{"p":"e","s":"r","x":-0.25,"y":0.05},{"p":"e","s":"r","x":-0.12,"y":0.55},{"p":"e","s":"r","x":0,"y":1.0},{"p":"e","s":"r","x":0.12,"y":0.6},{"p":"e","s":"r","x":0.25,"y":0.15},{"p":"e","s":"r","x":0.35,"y":0.0},{"p":"e","s":"r","x":0.45,"y":0.0},{"p":"e","s":"r","x":0.6,"y":0.2},{"p":"e","s":"r","x":0.8,"y":0.48},{"p":"e","s":"r","x":1.0,"y":0.65},{"p":"e","s":"r","x":1.3,"y":0.8},{"p":"e","s":"r","x":1.6,"y":0.89},{"p":"e","s":"r","x":2.0,"y":0.95},{"p":"e","s":"r","x":2.5,"y":0.98},{"p":"e","s":"r","x":3.0,"y":0.99},{"p":"e","s":"r","x":4.65,"y":1.0},
{"p":"f","s":"e","x":-4.8,"y":0.36},{"p":"f","s":"e","x":-4.7,"y":0.46},{"p":"f","s":"e","x":-4.6,"y":0.35},{"p":"f","s":"e","x":-4.5,"y":0.53},{"p":"f","s":"e","x":-4.4,"y":0.42},{"p":"f","s":"e","x":-4.3,"y":0.46},{"p":"f","s":"e","x":-4.2,"y":0.29},{"p":"f","s":"e","x":-4.1,"y":0.41},{"p":"f","s":"e","x":-4.0,"y":0.25},{"p":"f","s":"e","x":-3.9,"y":0.31},{"p":"f","s":"e","x":-3.8,"y":0.19},{"p":"f","s":"e","x":-3.7,"y":0.35},{"p":"f","s":"e","x":-3.6,"y":0.34},{"p":"f","s":"e","x":-3.5,"y":0.33},{"p":"f","s":"e","x":-3.4,"y":0.59},{"p":"f","s":"e","x":-3.3,"y":0.54},{"p":"f","s":"e","x":-3.2,"y":0.59},{"p":"f","s":"e","x":-3.1,"y":0.79},{"p":"f","s":"e","x":-3.0,"y":0.78},{"p":"f","s":"e","x":-2.9,"y":0.93},{"p":"f","s":"e","x":-2.8,"y":0.8},{"p":"f","s":"e","x":-2.7,"y":0.89},{"p":"f","s":"e","x":-2.6,"y":0.78},{"p":"f","s":"e","x":-2.5,"y":0.95},{"p":"f","s":"e","x":-2.4,"y":0.85},{"p":"f","s":"e","x":-2.3,"y":0.91},{"p":"f","s":"e","x":-2.2,"y":0.78},{"p":"f","s":"e","x":-2.1,"y":0.93},{"p":"f","s":"e","x":-2.0,"y":0.78},{"p":"f","s":"e","x":-1.9,"y":0.84},{"p":"f","s":"e","x":-1.8,"y":0.69},{"p":"f","s":"e","x":-1.7,"y":0.8},{"p":"f","s":"e","x":-1.6,"y":0.71},{"p":"f","s":"e","x":-1.5,"y":0.58},{"p":"f","s":"e","x":-1.4,"y":0.69},{"p":"f","s":"e","x":-1.3,"y":0.48},{"p":"f","s":"e","x":-1.2,"y":0.37},{"p":"f","s":"e","x":-1.1,"y":0.42},{"p":"f","s":"e","x":-1.0,"y":0.26},{"p":"f","s":"e","x":-0.9,"y":0.29},{"p":"f","s":"e","x":-0.8,"y":0.05},{"p":"f","s":"e","x":-0.7,"y":0.04},{"p":"f","s":"e","x":-0.6,"y":-0.1},{"p":"f","s":"e","x":-0.5,"y":-0.24},{"p":"f","s":"e","x":-0.4,"y":-0.04},{"p":"f","s":"e","x":-0.3,"y":0.15},{"p":"f","s":"e","x":-0.2,"y":0.5},{"p":"f","s":"e","x":-0.1,"y":0.8},{"p":"f","s":"e","x":0,"y":0.95},{"p":"f","s":"e","x":0.1,"y":0.7},{"p":"f","s":"e","x":0.2,"y":0.35},{"p":"f","s":"e","x":0.3,"y":0.13},{"p":"f","s":"e","x":0.4,"y":-0.17},{"p":"f","s":"e","x":0.5,"y":-0.25},{"p":"f","s":"e","x":0.6,"y":0.06},{"p":"f","s":"e","x":0.7,"y":0.13},{"p":"f","s":"e","x":0.8,"y":0.46},{"p":"f","s":"e","x":0.9,"y":0.44},{"p":"f","s":"e","x":1.0,"y":0.49},{"p":"f","s":"e","x":1.1,"y":0.69},{"p":"f","s":"e","x":1.2,"y":0.68},{"p":"f","s":"e","x":1.3,"y":0.83},{"p":"f","s":"e","x":1.4,"y":0.72},{"p":"f","s":"e","x":1.5,"y":0.82},{"p":"f","s":"e","x":1.6,"y":0.72},{"p":"f","s":"e","x":1.7,"y":0.91},{"p":"f","s":"e","x":1.8,"y":0.82},{"p":"f","s":"e","x":1.9,"y":0.9},{"p":"f","s":"e","x":2.0,"y":0.78},{"p":"f","s":"e","x":2.1,"y":0.95},{"p":"f","s":"e","x":2.2,"y":0.82},{"p":"f","s":"e","x":2.3,"y":0.9},{"p":"f","s":"e","x":2.4,"y":0.78},{"p":"f","s":"e","x":2.5,"y":0.92},{"p":"f","s":"e","x":2.6,"y":0.86},{"p":"f","s":"e","x":2.7,"y":0.76},{"p":"f","s":"e","x":2.8,"y":0.9},{"p":"f","s":"e","x":2.9,"y":0.72},{"p":"f","s":"e","x":3.0,"y":0.64},{"p":"f","s":"e","x":3.1,"y":0.71},{"p":"f","s":"e","x":3.2,"y":0.57},{"p":"f","s":"e","x":3.3,"y":0.61},{"p":"f","s":"e","x":3.4,"y":0.39},{"p":"f","s":"e","x":3.5,"y":0.4},{"p":"f","s":"e","x":3.6,"y":0.21},{"p":"f","s":"e","x":3.7,"y":0.33},{"p":"f","s":"e","x":3.8,"y":0.21},{"p":"f","s":"e","x":3.9,"y":0.3},{"p":"f","s":"e","x":4.0,"y":0.24},{"p":"f","s":"e","x":4.1,"y":0.46},{"p":"f","s":"e","x":4.2,"y":0.4},{"p":"f","s":"e","x":4.3,"y":0.55},{"p":"f","s":"e","x":4.4,"y":0.51},{"p":"f","s":"e","x":4.5,"y":0.72},{"p":"f","s":"e","x":4.6,"y":0.72},{"p":"f","s":"e","x":4.7,"y":0.69},{"p":"f","s":"e","x":4.8,"y":0.86},
{"p":"f","s":"t","x":-4.85,"y":0.1},{"p":"f","s":"t","x":-4.5,"y":0.1},{"p":"f","s":"t","x":-4.2,"y":0.11},{"p":"f","s":"t","x":-3.9,"y":0.14},{"p":"f","s":"t","x":-3.7,"y":0.2},{"p":"f","s":"t","x":-3.55,"y":0.3},{"p":"f","s":"t","x":-3.4,"y":0.45},{"p":"f","s":"t","x":-3.25,"y":0.6},{"p":"f","s":"t","x":-3.1,"y":0.72},{"p":"f","s":"t","x":-2.9,"y":0.82},{"p":"f","s":"t","x":-2.7,"y":0.88},{"p":"f","s":"t","x":-2.45,"y":0.91},{"p":"f","s":"t","x":-2.2,"y":0.9},{"p":"f","s":"t","x":-1.95,"y":0.87},{"p":"f","s":"t","x":-1.7,"y":0.8},{"p":"f","s":"t","x":-1.5,"y":0.7},{"p":"f","s":"t","x":-1.3,"y":0.56},{"p":"f","s":"t","x":-1.1,"y":0.38},{"p":"f","s":"t","x":-0.9,"y":0.17},{"p":"f","s":"t","x":-0.75,"y":0.0},{"p":"f","s":"t","x":-0.6,"y":-0.12},{"p":"f","s":"t","x":-0.48,"y":-0.16},{"p":"f","s":"t","x":-0.36,"y":-0.08},{"p":"f","s":"t","x":-0.25,"y":0.2},{"p":"f","s":"t","x":-0.12,"y":0.65},{"p":"f","s":"t","x":0,"y":0.98},{"p":"f","s":"t","x":0.12,"y":0.65},{"p":"f","s":"t","x":0.25,"y":0.25},{"p":"f","s":"t","x":0.38,"y":0.07},{"p":"f","s":"t","x":0.48,"y":0.05},{"p":"f","s":"t","x":0.6,"y":0.18},{"p":"f","s":"t","x":0.8,"y":0.48},{"p":"f","s":"t","x":1.0,"y":0.64},{"p":"f","s":"t","x":1.2,"y":0.74},{"p":"f","s":"t","x":1.5,"y":0.81},{"p":"f","s":"t","x":1.8,"y":0.84},{"p":"f","s":"t","x":2.2,"y":0.84},{"p":"f","s":"t","x":2.5,"y":0.82},{"p":"f","s":"t","x":2.8,"y":0.76},{"p":"f","s":"t","x":3.0,"y":0.67},{"p":"f","s":"t","x":3.2,"y":0.5},{"p":"f","s":"t","x":3.4,"y":0.3},{"p":"f","s":"t","x":3.6,"y":0.1},{"p":"f","s":"t","x":3.8,"y":0.01},{"p":"f","s":"t","x":3.95,"y":0.08},{"p":"f","s":"t","x":4.1,"y":0.24},{"p":"f","s":"t","x":4.3,"y":0.46},{"p":"f","s":"t","x":4.5,"y":0.63},{"p":"f","s":"t","x":4.7,"y":0.74},{"p":"f","s":"t","x":4.85,"y":0.8},
{"p":"f","s":"r","x":-4.85,"y":0.99},{"p":"f","s":"r","x":-3.5,"y":0.99},{"p":"f","s":"r","x":-3.0,"y":0.98},{"p":"f","s":"r","x":-2.7,"y":0.95},{"p":"f","s":"r","x":-2.44,"y":0.91},{"p":"f","s":"r","x":-2.1,"y":0.82},{"p":"f","s":"r","x":-1.8,"y":0.69},{"p":"f","s":"r","x":-1.5,"y":0.52},{"p":"f","s":"r","x":-1.2,"y":0.32},{"p":"f","s":"r","x":-1.0,"y":0.17},{"p":"f","s":"r","x":-0.8,"y":-0.03},{"p":"f","s":"r","x":-0.65,"y":-0.14},{"p":"f","s":"r","x":-0.5,"y":-0.19},{"p":"f","s":"r","x":-0.38,"y":-0.12},{"p":"f","s":"r","x":-0.25,"y":0.2},{"p":"f","s":"r","x":-0.12,"y":0.65},{"p":"f","s":"r","x":0,"y":1.0},{"p":"f","s":"r","x":0.12,"y":0.65},{"p":"f","s":"r","x":0.25,"y":0.25},{"p":"f","s":"r","x":0.38,"y":0.08},{"p":"f","s":"r","x":0.48,"y":0.06},{"p":"f","s":"r","x":0.6,"y":0.2},{"p":"f","s":"r","x":0.8,"y":0.52},{"p":"f","s":"r","x":1.0,"y":0.68},{"p":"f","s":"r","x":1.2,"y":0.77},{"p":"f","s":"r","x":1.5,"y":0.84},{"p":"f","s":"r","x":1.8,"y":0.88},{"p":"f","s":"r","x":2.2,"y":0.92},{"p":"f","s":"r","x":2.6,"y":0.95},{"p":"f","s":"r","x":3.0,"y":0.97},{"p":"f","s":"r","x":3.5,"y":0.98},{"p":"f","s":"r","x":4.85,"y":0.99},
{"p":"f","s":"o","x":-4.85,"y":0.97},{"p":"f","s":"o","x":-4.7,"y":0.93},{"p":"f","s":"o","x":-4.55,"y":0.82},{"p":"f","s":"o","x":-4.4,"y":0.62},{"p":"f","s":"o","x":-4.25,"y":0.45},{"p":"f","s":"o","x":-4.1,"y":0.36},{"p":"f","s":"o","x":-4.0,"y":0.35},{"p":"f","s":"o","x":-3.9,"y":0.38},{"p":"f","s":"o","x":-3.75,"y":0.5},{"p":"f","s":"o","x":-3.6,"y":0.7},{"p":"f","s":"o","x":-3.45,"y":0.86},{"p":"f","s":"o","x":-3.3,"y":0.95},{"p":"f","s":"o","x":-3.15,"y":0.99},{"p":"f","s":"o","x":-3.0,"y":1.0},{"p":"f","s":"o","x":-1.1,"y":1.0},{"p":"f","s":"o","x":-0.95,"y":0.95},{"p":"f","s":"o","x":-0.8,"y":0.83},{"p":"f","s":"o","x":-0.65,"y":0.72},{"p":"f","s":"o","x":-0.55,"y":0.69},{"p":"f","s":"o","x":-0.45,"y":0.72},{"p":"f","s":"o","x":-0.3,"y":0.85},{"p":"f","s":"o","x":-0.15,"y":0.96},{"p":"f","s":"o","x":0,"y":1.0},{"p":"f","s":"o","x":0.15,"y":0.98},{"p":"f","s":"o","x":0.3,"y":1.0},{"p":"f","s":"o","x":3.0,"y":1.0},{"p":"f","s":"o","x":3.15,"y":0.95},{"p":"f","s":"o","x":3.3,"y":0.8},{"p":"f","s":"o","x":3.45,"y":0.55},{"p":"f","s":"o","x":3.6,"y":0.28},{"p":"f","s":"o","x":3.72,"y":0.1},{"p":"f","s":"o","x":3.8,"y":0.06},{"p":"f","s":"o","x":3.9,"y":0.12},{"p":"f","s":"o","x":4.0,"y":0.3},{"p":"f","s":"o","x":4.1,"y":0.52},{"p":"f","s":"o","x":4.2,"y":0.74},{"p":"f","s":"o","x":4.3,"y":0.9},{"p":"f","s":"o","x":4.4,"y":0.98},{"p":"f","s":"o","x":4.55,"y":1.0},{"p":"f","s":"o","x":4.85,"y":1.0}
]},
"spacing":10,
"vconcat":[
{"spacing":9,"hconcat":[
{"width":128,"height":96,"resolve":{"axis":{"x":"independent","y":"independent"}},"layer":[
{"data":{"values":[{}]},"mark":{"type":"rect","color":"#ebecf2"},"encoding":{"x":{"datum":-4.9,"type":"quantitative","scale":{"domain":[-4.9,4.9],"nice":false,"zero":false},"axis":{"orient":"bottom","values":[-4,-2,0,2,4],"tickSize":-4,"labelPadding":9,"labelExpr":"datum.value<0?'- '+format(-datum.value,'d'):format(datum.value,'d')","title":null}},"x2":{"datum":4.9},"y":{"datum":0,"type":"quantitative","scale":{"domain":[-1.1,1.1],"nice":false,"zero":false},"axis":{"orient":"left","values":[-1,-0.5,0,0.5,1],"tickSize":-4,"labelPadding":7,"labelExpr":"datum.value<0?'- '+format(-datum.value,'.1f'):format(datum.value,'.1f')","title":"C","titleAngle":0,"titleAlign":"right","titleBaseline":"middle","titleFont":"Liberation Sans","titleFontSize":25,"titlePadding":8,"titleColor":"#111"}},"y2":{"datum":-1.1}}},
{"data":{"values":[{}]},"mark":{"type":"point","opacity":0},"encoding":{"x":{"datum":0,"type":"quantitative","scale":{"domain":[-4.9,4.9],"nice":false,"zero":false},"axis":{"orient":"top","values":[-4,-2,0,2,4],"tickSize":-4,"labels":false,"title":null}},"y":{"datum":0,"type":"quantitative","scale":{"domain":[-1.1,1.1],"nice":false,"zero":false},"axis":{"orient":"right","values":[-1,-0.5,0,0.5,1],"tickSize":-4,"labels":false,"title":null}}}},
{"data":{"values":[{}]},"mark":{"type":"point","opacity":0},"encoding":{"x":{"datum":0,"type":"quantitative","scale":{"domain":[-4.9,4.9],"nice":false,"zero":false},"axis":{"orient":"bottom","values":[-4.5,-3.5,-3,-2.5,-1.5,-1,-0.5,0.5,1,1.5,2.5,3,3.5,4.5],"tickSize":-2,"labels":false,"title":null}},"y":{"datum":0,"type":"quantitative","scale":{"domain":[-1.1,1.1],"nice":false,"zero":false},"axis":{"orient":"left","values":[-0.9,-0.8,-0.7,-0.6,-0.4,-0.3,-0.2,-0.1,0.1,0.2,0.3,0.4,0.6,0.7,0.8,0.9],"tickSize":-2,"labels":false,"title":null}}}},
{"data":{"values":[{}]},"mark":{"type":"point","opacity":0},"encoding":{"x":{"datum":0,"type":"quantitative","scale":{"domain":[-4.9,4.9],"nice":false,"zero":false},"axis":{"orient":"top","values":[-4.5,-3.5,-3,-2.5,-1.5,-1,-0.5,0.5,1,1.5,2.5,3,3.5,4.5],"tickSize":-2,"labels":false,"title":null}},"y":{"datum":0,"type":"quantitative","scale":{"domain":[-1.1,1.1],"nice":false,"zero":false},"axis":{"orient":"right","values":[-0.9,-0.8,-0.7,-0.6,-0.4,-0.3,-0.2,-0.1,0.1,0.2,0.3,0.4,0.6,0.7,0.8,0.9],"tickSize":-2,"labels":false,"title":null}}}},
{"transform":[{"filter":"datum.p=='a'&&datum.s=='e'"}],"mark":{"type":"line","color":"#2bc42b","strokeWidth":2.2,"clip":true},"encoding":{"x":{"field":"x","type":"quantitative","scale":{"domain":[-4.9,4.9],"nice":false,"zero":false},"axis":null},"y":{"field":"y","type":"quantitative","scale":{"domain":[-1.1,1.1],"nice":false,"zero":false},"axis":null}}},
{"transform":[{"filter":"datum.p=='a'&&datum.s=='t'"}],"mark":{"type":"line","color":"#1d5e1d","strokeWidth":2.5,"strokeDash":[4,2.5],"interpolate":"monotone","clip":true},"encoding":{"x":{"field":"x","type":"quantitative","scale":{"domain":[-4.9,4.9],"nice":false,"zero":false},"axis":null},"y":{"field":"y","type":"quantitative","scale":{"domain":[-1.1,1.1],"nice":false,"zero":false},"axis":null}}},
{"data":{"values":[{}]},"mark":{"type":"text","font":"Liberation Serif","fontSize":18,"color":"#222"},"encoding":{"x":{"datum":-3.62,"type":"quantitative","scale":{"domain":[-4.9,4.9],"nice":false,"zero":false},"axis":null},"y":{"datum":-0.68,"type":"quantitative","scale":{"domain":[-1.1,1.1],"nice":false,"zero":false},"axis":null},"text":{"value":"(a)"}}}
]},
{"width":256,"height":96,"resolve":{"axis":{"x":"independent","y":"independent"}},"layer":[
{"data":{"values":[{}]},"mark":{"type":"rect","color":"#ebecf2"},"encoding":{"x":{"datum":-4.9,"type":"quantitative","scale":{"domain":[-4.9,4.9],"nice":false,"zero":false},"axis":{"orient":"bottom","values":[-4,-2,0,2,4],"tickSize":-4,"labelPadding":9,"labelExpr":"datum.value<0?'- '+format(-datum.value,'d'):format(datum.value,'d')","title":null}},"x2":{"datum":4.9},"y":{"datum":0,"type":"quantitative","scale":{"domain":[-1.1,1.1],"nice":false,"zero":false},"axis":{"orient":"left","values":[-1,-0.5,0,0.5,1],"tickSize":-4,"labelPadding":7,"labelExpr":"datum.value<0?'- '+format(-datum.value,'.1f'):format(datum.value,'.1f')","title":null}},"y2":{"datum":-1.1}}},
{"data":{"values":[{}]},"mark":{"type":"point","opacity":0},"encoding":{"x":{"datum":0,"type":"quantitative","scale":{"domain":[-4.9,4.9],"nice":false,"zero":false},"axis":{"orient":"top","values":[-4,-2,0,2,4],"tickSize":-4,"labels":false,"title":null}},"y":{"datum":0,"type":"quantitative","scale":{"domain":[-1.1,1.1],"nice":false,"zero":false},"axis":{"orient":"right","values":[-1,-0.5,0,0.5,1],"tickSize":-4,"labels":false,"title":null}}}},
{"data":{"values":[{}]},"mark":{"type":"point","opacity":0},"encoding":{"x":{"datum":0,"type":"quantitative","scale":{"domain":[-4.9,4.9],"nice":false,"zero":false},"axis":{"orient":"bottom","values":[-4.5,-3.5,-3,-2.5,-1.5,-1,-0.5,0.5,1,1.5,2.5,3,3.5,4.5],"tickSize":-2,"labels":false,"title":null}},"y":{"datum":0,"type":"quantitative","scale":{"domain":[-1.1,1.1],"nice":false,"zero":false},"axis":{"orient":"left","values":[-0.9,-0.8,-0.7,-0.6,-0.4,-0.3,-0.2,-0.1,0.1,0.2,0.3,0.4,0.6,0.7,0.8,0.9],"tickSize":-2,"labels":false,"title":null}}}},
{"data":{"values":[{}]},"mark":{"type":"point","opacity":0},"encoding":{"x":{"datum":0,"type":"quantitative","scale":{"domain":[-4.9,4.9],"nice":false,"zero":false},"axis":{"orient":"top","values":[-4.5,-3.5,-3,-2.5,-1.5,-1,-0.5,0.5,1,1.5,2.5,3,3.5,4.5],"tickSize":-2,"labels":false,"title":null}},"y":{"datum":0,"type":"quantitative","scale":{"domain":[-1.1,1.1],"nice":false,"zero":false},"axis":{"orient":"right","values":[-0.9,-0.8,-0.7,-0.6,-0.4,-0.3,-0.2,-0.1,0.1,0.2,0.3,0.4,0.6,0.7,0.8,0.9],"tickSize":-2,"labels":false,"title":null}}}},
{"transform":[{"filter":"datum.p=='d'&&datum.s=='e'"}],"mark":{"type":"line","color":"#5a9af0","strokeWidth":2.2,"clip":true},"encoding":{"x":{"field":"x","type":"quantitative","scale":{"domain":[-4.9,4.9],"nice":false,"zero":false},"axis":null},"y":{"field":"y","type":"quantitative","scale":{"domain":[-1.1,1.1],"nice":false,"zero":false},"axis":null}}},
{"transform":[{"filter":"datum.p=='d'&&datum.s=='t'"}],"mark":{"type":"line","color":"#10106a","strokeWidth":2.5,"strokeDash":[6,2.5,2,2.5],"interpolate":"monotone","clip":true},"encoding":{"x":{"field":"x","type":"quantitative","scale":{"domain":[-4.9,4.9],"nice":false,"zero":false},"axis":null},"y":{"field":"y","type":"quantitative","scale":{"domain":[-1.1,1.1],"nice":false,"zero":false},"axis":null}}},
{"transform":[{"filter":"datum.p=='d'&&datum.s=='r'"}],"mark":{"type":"line","color":"#f02020","strokeWidth":2.5,"strokeDash":[7,4],"interpolate":"monotone","clip":true},"encoding":{"x":{"field":"x","type":"quantitative","scale":{"domain":[-4.9,4.9],"nice":false,"zero":false},"axis":null},"y":{"field":"y","type":"quantitative","scale":{"domain":[-1.1,1.1],"nice":false,"zero":false},"axis":null}}},
{"data":{"values":[{}]},"mark":{"type":"text","font":"Liberation Serif","fontSize":18,"color":"#222"},"encoding":{"x":{"datum":-4.16,"type":"quantitative","scale":{"domain":[-4.9,4.9],"nice":false,"zero":false},"axis":null},"y":{"datum":-0.68,"type":"quantitative","scale":{"domain":[-1.1,1.1],"nice":false,"zero":false},"axis":null},"text":{"value":"(d)"}}}
]}
]},
{"spacing":9,"hconcat":[
{"width":128,"height":96,"resolve":{"axis":{"x":"independent","y":"independent"}},"layer":[
{"data":{"values":[{}]},"mark":{"type":"rect","color":"#ebecf2"},"encoding":{"x":{"datum":-4.9,"type":"quantitative","scale":{"domain":[-4.9,4.9],"nice":false,"zero":false},"axis":{"orient":"bottom","values":[-4,-2,0,2,4],"tickSize":-4,"labelPadding":9,"labelExpr":"datum.value<0?'- '+format(-datum.value,'d'):format(datum.value,'d')","title":null}},"x2":{"datum":4.9},"y":{"datum":0,"type":"quantitative","scale":{"domain":[-1.1,1.1],"nice":false,"zero":false},"axis":{"orient":"left","values":[-1,-0.5,0,0.5,1],"tickSize":-4,"labelPadding":7,"labelExpr":"datum.value<0?'- '+format(-datum.value,'.1f'):format(datum.value,'.1f')","title":"C","titleAngle":0,"titleAlign":"right","titleBaseline":"middle","titleFont":"Liberation Sans","titleFontSize":25,"titlePadding":8,"titleColor":"#111"}},"y2":{"datum":-1.1}}},
{"data":{"values":[{}]},"mark":{"type":"point","opacity":0},"encoding":{"x":{"datum":0,"type":"quantitative","scale":{"domain":[-4.9,4.9],"nice":false,"zero":false},"axis":{"orient":"top","values":[-4,-2,0,2,4],"tickSize":-4,"labels":false,"title":null}},"y":{"datum":0,"type":"quantitative","scale":{"domain":[-1.1,1.1],"nice":false,"zero":false},"axis":{"orient":"right","values":[-1,-0.5,0,0.5,1],"tickSize":-4,"labels":false,"title":null}}}},
{"data":{"values":[{}]},"mark":{"type":"point","opacity":0},"encoding":{"x":{"datum":0,"type":"quantitative","scale":{"domain":[-4.9,4.9],"nice":false,"zero":false},"axis":{"orient":"bottom","values":[-4.5,-3.5,-3,-2.5,-1.5,-1,-0.5,0.5,1,1.5,2.5,3,3.5,4.5],"tickSize":-2,"labels":false,"title":null}},"y":{"datum":0,"type":"quantitative","scale":{"domain":[-1.1,1.1],"nice":false,"zero":false},"axis":{"orient":"left","values":[-0.9,-0.8,-0.7,-0.6,-0.4,-0.3,-0.2,-0.1,0.1,0.2,0.3,0.4,0.6,0.7,0.8,0.9],"tickSize":-2,"labels":false,"title":null}}}},
{"data":{"values":[{}]},"mark":{"type":"point","opacity":0},"encoding":{"x":{"datum":0,"type":"quantitative","scale":{"domain":[-4.9,4.9],"nice":false,"zero":false},"axis":{"orient":"top","values":[-4.5,-3.5,-3,-2.5,-1.5,-1,-0.5,0.5,1,1.5,2.5,3,3.5,4.5],"tickSize":-2,"labels":false,"title":null}},"y":{"datum":0,"type":"quantitative","scale":{"domain":[-1.1,1.1],"nice":false,"zero":false},"axis":{"orient":"right","values":[-0.9,-0.8,-0.7,-0.6,-0.4,-0.3,-0.2,-0.1,0.1,0.2,0.3,0.4,0.6,0.7,0.8,0.9],"tickSize":-2,"labels":false,"title":null}}}},
{"transform":[{"filter":"datum.p=='b'&&datum.s=='e'"}],"mark":{"type":"line","color":"#2bc42b","strokeWidth":2.2,"clip":true},"encoding":{"x":{"field":"x","type":"quantitative","scale":{"domain":[-4.9,4.9],"nice":false,"zero":false},"axis":null},"y":{"field":"y","type":"quantitative","scale":{"domain":[-1.1,1.1],"nice":false,"zero":false},"axis":null}}},
{"transform":[{"filter":"datum.p=='b'&&datum.s=='t'"}],"mark":{"type":"line","color":"#1d5e1d","strokeWidth":2.5,"strokeDash":[4,2.5],"interpolate":"monotone","clip":true},"encoding":{"x":{"field":"x","type":"quantitative","scale":{"domain":[-4.9,4.9],"nice":false,"zero":false},"axis":null},"y":{"field":"y","type":"quantitative","scale":{"domain":[-1.1,1.1],"nice":false,"zero":false},"axis":null}}},
{"data":{"values":[{}]},"mark":{"type":"text","font":"Liberation Serif","fontSize":18,"color":"#222"},"encoding":{"x":{"datum":-4.0,"type":"quantitative","scale":{"domain":[-4.9,4.9],"nice":false,"zero":false},"axis":null},"y":{"datum":-0.83,"type":"quantitative","scale":{"domain":[-1.1,1.1],"nice":false,"zero":false},"axis":null},"text":{"value":"(b)"}}}
]},
{"width":256,"height":96,"resolve":{"axis":{"x":"independent","y":"independent"}},"layer":[
{"data":{"values":[{}]},"mark":{"type":"rect","color":"#ebecf2"},"encoding":{"x":{"datum":-4.9,"type":"quantitative","scale":{"domain":[-4.9,4.9],"nice":false,"zero":false},"axis":{"orient":"bottom","values":[-4,-2,0,2,4],"tickSize":-4,"labelPadding":9,"labelExpr":"datum.value<0?'- '+format(-datum.value,'d'):format(datum.value,'d')","title":null}},"x2":{"datum":4.9},"y":{"datum":0,"type":"quantitative","scale":{"domain":[-1.1,1.1],"nice":false,"zero":false},"axis":{"orient":"left","values":[-1,-0.5,0,0.5,1],"tickSize":-4,"labelPadding":7,"labelExpr":"datum.value<0?'- '+format(-datum.value,'.1f'):format(datum.value,'.1f')","title":null}},"y2":{"datum":-1.1}}},
{"data":{"values":[{}]},"mark":{"type":"point","opacity":0},"encoding":{"x":{"datum":0,"type":"quantitative","scale":{"domain":[-4.9,4.9],"nice":false,"zero":false},"axis":{"orient":"top","values":[-4,-2,0,2,4],"tickSize":-4,"labels":false,"title":null}},"y":{"datum":0,"type":"quantitative","scale":{"domain":[-1.1,1.1],"nice":false,"zero":false},"axis":{"orient":"right","values":[-1,-0.5,0,0.5,1],"tickSize":-4,"labels":false,"title":null}}}},
{"data":{"values":[{}]},"mark":{"type":"point","opacity":0},"encoding":{"x":{"datum":0,"type":"quantitative","scale":{"domain":[-4.9,4.9],"nice":false,"zero":false},"axis":{"orient":"bottom","values":[-4.5,-3.5,-3,-2.5,-1.5,-1,-0.5,0.5,1,1.5,2.5,3,3.5,4.5],"tickSize":-2,"labels":false,"title":null}},"y":{"datum":0,"type":"quantitative","scale":{"domain":[-1.1,1.1],"nice":false,"zero":false},"axis":{"orient":"left","values":[-0.9,-0.8,-0.7,-0.6,-0.4,-0.3,-0.2,-0.1,0.1,0.2,0.3,0.4,0.6,0.7,0.8,0.9],"tickSize":-2,"labels":false,"title":null}}}},
{"data":{"values":[{}]},"mark":{"type":"point","opacity":0},"encoding":{"x":{"datum":0,"type":"quantitative","scale":{"domain":[-4.9,4.9],"nice":false,"zero":false},"axis":{"orient":"top","values":[-4.5,-3.5,-3,-2.5,-1.5,-1,-0.5,0.5,1,1.5,2.5,3,3.5,4.5],"tickSize":-2,"labels":false,"title":null}},"y":{"datum":0,"type":"quantitative","scale":{"domain":[-1.1,1.1],"nice":false,"zero":false},"axis":{"orient":"right","values":[-0.9,-0.8,-0.7,-0.6,-0.4,-0.3,-0.2,-0.1,0.1,0.2,0.3,0.4,0.6,0.7,0.8,0.9],"tickSize":-2,"labels":false,"title":null}}}},
{"transform":[{"filter":"datum.p=='e'&&datum.s=='e'"}],"mark":{"type":"line","color":"#5a9af0","strokeWidth":2.2,"clip":true},"encoding":{"x":{"field":"x","type":"quantitative","scale":{"domain":[-4.9,4.9],"nice":false,"zero":false},"axis":null},"y":{"field":"y","type":"quantitative","scale":{"domain":[-1.1,1.1],"nice":false,"zero":false},"axis":null}}},
{"transform":[{"filter":"datum.p=='e'&&datum.s=='t'"}],"mark":{"type":"line","color":"#10106a","strokeWidth":2.5,"strokeDash":[6,2.5,2,2.5],"interpolate":"monotone","clip":true},"encoding":{"x":{"field":"x","type":"quantitative","scale":{"domain":[-4.9,4.9],"nice":false,"zero":false},"axis":null},"y":{"field":"y","type":"quantitative","scale":{"domain":[-1.1,1.1],"nice":false,"zero":false},"axis":null}}},
{"transform":[{"filter":"datum.p=='e'&&datum.s=='r'"}],"mark":{"type":"line","color":"#f02020","strokeWidth":2.5,"strokeDash":[7,4],"interpolate":"monotone","clip":true},"encoding":{"x":{"field":"x","type":"quantitative","scale":{"domain":[-4.9,4.9],"nice":false,"zero":false},"axis":null},"y":{"field":"y","type":"quantitative","scale":{"domain":[-1.1,1.1],"nice":false,"zero":false},"axis":null}}},
{"data":{"values":[{}]},"mark":{"type":"text","font":"Liberation Serif","fontSize":18,"color":"#222"},"encoding":{"x":{"datum":-4.06,"type":"quantitative","scale":{"domain":[-4.9,4.9],"nice":false,"zero":false},"axis":null},"y":{"datum":-0.59,"type":"quantitative","scale":{"domain":[-1.1,1.1],"nice":false,"zero":false},"axis":null},"text":{"value":"(e)"}}}
]}
]},
{"spacing":9,"hconcat":[
{"width":128,"height":96,"resolve":{"axis":{"x":"independent","y":"independent"}},"layer":[
{"data":{"values":[{}]},"mark":{"type":"rect","color":"#ebecf2"},"encoding":{"x":{"datum":-4.9,"type":"quantitative","scale":{"domain":[-4.9,4.9],"nice":false,"zero":false},"axis":{"orient":"bottom","values":[-4,-2,0,2,4],"tickSize":-4,"labelPadding":9,"labelExpr":"datum.value<0?'- '+format(-datum.value,'d'):format(datum.value,'d')","title":"δ (MHz)","titleFont":"Liberation Serif","titleFontStyle":"italic","titleFontSize":20,"titlePadding":5,"titleColor":"#222"}},"x2":{"datum":4.9},"y":{"datum":0,"type":"quantitative","scale":{"domain":[-1.1,1.1],"nice":false,"zero":false},"axis":{"orient":"left","values":[-1,-0.5,0,0.5,1],"tickSize":-4,"labelPadding":7,"labelExpr":"datum.value<0?'- '+format(-datum.value,'.1f'):format(datum.value,'.1f')","title":"C","titleAngle":0,"titleAlign":"right","titleBaseline":"middle","titleFont":"Liberation Sans","titleFontSize":25,"titlePadding":8,"titleColor":"#111"}},"y2":{"datum":-1.1}}},
{"data":{"values":[{}]},"mark":{"type":"point","opacity":0},"encoding":{"x":{"datum":0,"type":"quantitative","scale":{"domain":[-4.9,4.9],"nice":false,"zero":false},"axis":{"orient":"top","values":[-4,-2,0,2,4],"tickSize":-4,"labels":false,"title":null}},"y":{"datum":0,"type":"quantitative","scale":{"domain":[-1.1,1.1],"nice":false,"zero":false},"axis":{"orient":"right","values":[-1,-0.5,0,0.5,1],"tickSize":-4,"labels":false,"title":null}}}},
{"data":{"values":[{}]},"mark":{"type":"point","opacity":0},"encoding":{"x":{"datum":0,"type":"quantitative","scale":{"domain":[-4.9,4.9],"nice":false,"zero":false},"axis":{"orient":"bottom","values":[-4.5,-3.5,-3,-2.5,-1.5,-1,-0.5,0.5,1,1.5,2.5,3,3.5,4.5],"tickSize":-2,"labels":false,"title":null}},"y":{"datum":0,"type":"quantitative","scale":{"domain":[-1.1,1.1],"nice":false,"zero":false},"axis":{"orient":"left","values":[-0.9,-0.8,-0.7,-0.6,-0.4,-0.3,-0.2,-0.1,0.1,0.2,0.3,0.4,0.6,0.7,0.8,0.9],"tickSize":-2,"labels":false,"title":null}}}},
{"data":{"values":[{}]},"mark":{"type":"point","opacity":0},"encoding":{"x":{"datum":0,"type":"quantitative","scale":{"domain":[-4.9,4.9],"nice":false,"zero":false},"axis":{"orient":"top","values":[-4.5,-3.5,-3,-2.5,-1.5,-1,-0.5,0.5,1,1.5,2.5,3,3.5,4.5],"tickSize":-2,"labels":false,"title":null}},"y":{"datum":0,"type":"quantitative","scale":{"domain":[-1.1,1.1],"nice":false,"zero":false},"axis":{"orient":"right","values":[-0.9,-0.8,-0.7,-0.6,-0.4,-0.3,-0.2,-0.1,0.1,0.2,0.3,0.4,0.6,0.7,0.8,0.9],"tickSize":-2,"labels":false,"title":null}}}},
{"transform":[{"filter":"datum.p=='c'&&datum.s=='e'"}],"mark":{"type":"line","color":"#2bc42b","strokeWidth":2.2,"clip":true},"encoding":{"x":{"field":"x","type":"quantitative","scale":{"domain":[-4.9,4.9],"nice":false,"zero":false},"axis":null},"y":{"field":"y","type":"quantitative","scale":{"domain":[-1.1,1.1],"nice":false,"zero":false},"axis":null}}},
{"transform":[{"filter":"datum.p=='c'&&datum.s=='t'"}],"mark":{"type":"line","color":"#1d5e1d","strokeWidth":2.5,"strokeDash":[4,2.5],"interpolate":"monotone","clip":true},"encoding":{"x":{"field":"x","type":"quantitative","scale":{"domain":[-4.9,4.9],"nice":false,"zero":false},"axis":null},"y":{"field":"y","type":"quantitative","scale":{"domain":[-1.1,1.1],"nice":false,"zero":false},"axis":null}}},
{"transform":[{"filter":"datum.p=='c'&&datum.s=='o'"}],"mark":{"type":"line","color":"#c8702a","strokeWidth":2,"strokeDash":[1.3,1.3],"interpolate":"monotone","clip":true},"encoding":{"x":{"field":"x","type":"quantitative","scale":{"domain":[-4.9,4.9],"nice":false,"zero":false},"axis":null},"y":{"field":"y","type":"quantitative","scale":{"domain":[-1.1,1.1],"nice":false,"zero":false},"axis":null}}},
{"data":{"values":[{}]},"mark":{"type":"text","font":"Liberation Serif","fontSize":18,"color":"#222"},"encoding":{"x":{"datum":-3.62,"type":"quantitative","scale":{"domain":[-4.9,4.9],"nice":false,"zero":false},"axis":null},"y":{"datum":0.62,"type":"quantitative","scale":{"domain":[-1.1,1.1],"nice":false,"zero":false},"axis":null},"text":{"value":"(c)"}}}
]},
{"width":256,"height":96,"resolve":{"axis":{"x":"independent","y":"independent"}},"layer":[
{"data":{"values":[{}]},"mark":{"type":"rect","color":"#ebecf2"},"encoding":{"x":{"datum":-4.9,"type":"quantitative","scale":{"domain":[-4.9,4.9],"nice":false,"zero":false},"axis":{"orient":"bottom","values":[-4,-2,0,2,4],"tickSize":-4,"labelPadding":9,"labelExpr":"datum.value<0?'- '+format(-datum.value,'d'):format(datum.value,'d')","title":"δ (MHz)","titleFont":"Liberation Serif","titleFontStyle":"italic","titleFontSize":20,"titlePadding":5,"titleColor":"#222"}},"x2":{"datum":4.9},"y":{"datum":0,"type":"quantitative","scale":{"domain":[-1.1,1.1],"nice":false,"zero":false},"axis":{"orient":"left","values":[-1,-0.5,0,0.5,1],"tickSize":-4,"labelPadding":7,"labelExpr":"datum.value<0?'- '+format(-datum.value,'.1f'):format(datum.value,'.1f')","title":null}},"y2":{"datum":-1.1}}},
{"data":{"values":[{}]},"mark":{"type":"point","opacity":0},"encoding":{"x":{"datum":0,"type":"quantitative","scale":{"domain":[-4.9,4.9],"nice":false,"zero":false},"axis":{"orient":"top","values":[-4,-2,0,2,4],"tickSize":-4,"labels":false,"title":null}},"y":{"datum":0,"type":"quantitative","scale":{"domain":[-1.1,1.1],"nice":false,"zero":false},"axis":{"orient":"right","values":[-1,-0.5,0,0.5,1],"tickSize":-4,"labels":false,"title":null}}}},
{"data":{"values":[{}]},"mark":{"type":"point","opacity":0},"encoding":{"x":{"datum":0,"type":"quantitative","scale":{"domain":[-4.9,4.9],"nice":false,"zero":false},"axis":{"orient":"bottom","values":[-4.5,-3.5,-3,-2.5,-1.5,-1,-0.5,0.5,1,1.5,2.5,3,3.5,4.5],"tickSize":-2,"labels":false,"title":null}},"y":{"datum":0,"type":"quantitative","scale":{"domain":[-1.1,1.1],"nice":false,"zero":false},"axis":{"orient":"left","values":[-0.9,-0.8,-0.7,-0.6,-0.4,-0.3,-0.2,-0.1,0.1,0.2,0.3,0.4,0.6,0.7,0.8,0.9],"tickSize":-2,"labels":false,"title":null}}}},
{"data":{"values":[{}]},"mark":{"type":"point","opacity":0},"encoding":{"x":{"datum":0,"type":"quantitative","scale":{"domain":[-4.9,4.9],"nice":false,"zero":false},"axis":{"orient":"top","values":[-4.5,-3.5,-3,-2.5,-1.5,-1,-0.5,0.5,1,1.5,2.5,3,3.5,4.5],"tickSize":-2,"labels":false,"title":null}},"y":{"datum":0,"type":"quantitative","scale":{"domain":[-1.1,1.1],"nice":false,"zero":false},"axis":{"orient":"right","values":[-0.9,-0.8,-0.7,-0.6,-0.4,-0.3,-0.2,-0.1,0.1,0.2,0.3,0.4,0.6,0.7,0.8,0.9],"tickSize":-2,"labels":false,"title":null}}}},
{"transform":[{"filter":"datum.p=='f'&&datum.s=='e'"}],"mark":{"type":"line","color":"#5a9af0","strokeWidth":2.2,"clip":true},"encoding":{"x":{"field":"x","type":"quantitative","scale":{"domain":[-4.9,4.9],"nice":false,"zero":false},"axis":null},"y":{"field":"y","type":"quantitative","scale":{"domain":[-1.1,1.1],"nice":false,"zero":false},"axis":null}}},
{"transform":[{"filter":"datum.p=='f'&&datum.s=='t'"}],"mark":{"type":"line","color":"#10106a","strokeWidth":2.5,"strokeDash":[6,2.5,2,2.5],"interpolate":"monotone","clip":true},"encoding":{"x":{"field":"x","type":"quantitative","scale":{"domain":[-4.9,4.9],"nice":false,"zero":false},"axis":null},"y":{"field":"y","type":"quantitative","scale":{"domain":[-1.1,1.1],"nice":false,"zero":false},"axis":null}}},
{"transform":[{"filter":"datum.p=='f'&&datum.s=='r'"}],"mark":{"type":"line","color":"#f02020","strokeWidth":2.5,"strokeDash":[7,4],"interpolate":"monotone","clip":true},"encoding":{"x":{"field":"x","type":"quantitative","scale":{"domain":[-4.9,4.9],"nice":false,"zero":false},"axis":null},"y":{"field":"y","type":"quantitative","scale":{"domain":[-1.1,1.1],"nice":false,"zero":false},"axis":null}}},
{"transform":[{"filter":"datum.p=='f'&&datum.s=='o'"}],"mark":{"type":"line","color":"#c8702a","strokeWidth":2,"strokeDash":[1.3,1.3],"interpolate":"monotone","clip":true},"encoding":{"x":{"field":"x","type":"quantitative","scale":{"domain":[-4.9,4.9],"nice":false,"zero":false},"axis":null},"y":{"field":"y","type":"quantitative","scale":{"domain":[-1.1,1.1],"nice":false,"zero":false},"axis":null}}},
{"data":{"values":[{}]},"mark":{"type":"text","font":"Liberation Serif","fontSize":18,"color":"#222"},"encoding":{"x":{"datum":-4.31,"type":"quantitative","scale":{"domain":[-4.9,4.9],"nice":false,"zero":false},"axis":null},"y":{"datum":-0.54,"type":"quantitative","scale":{"domain":[-1.1,1.1],"nice":false,"zero":false},"axis":null},"text":{"value":"(f)"}}}
]}
]}
]
}
